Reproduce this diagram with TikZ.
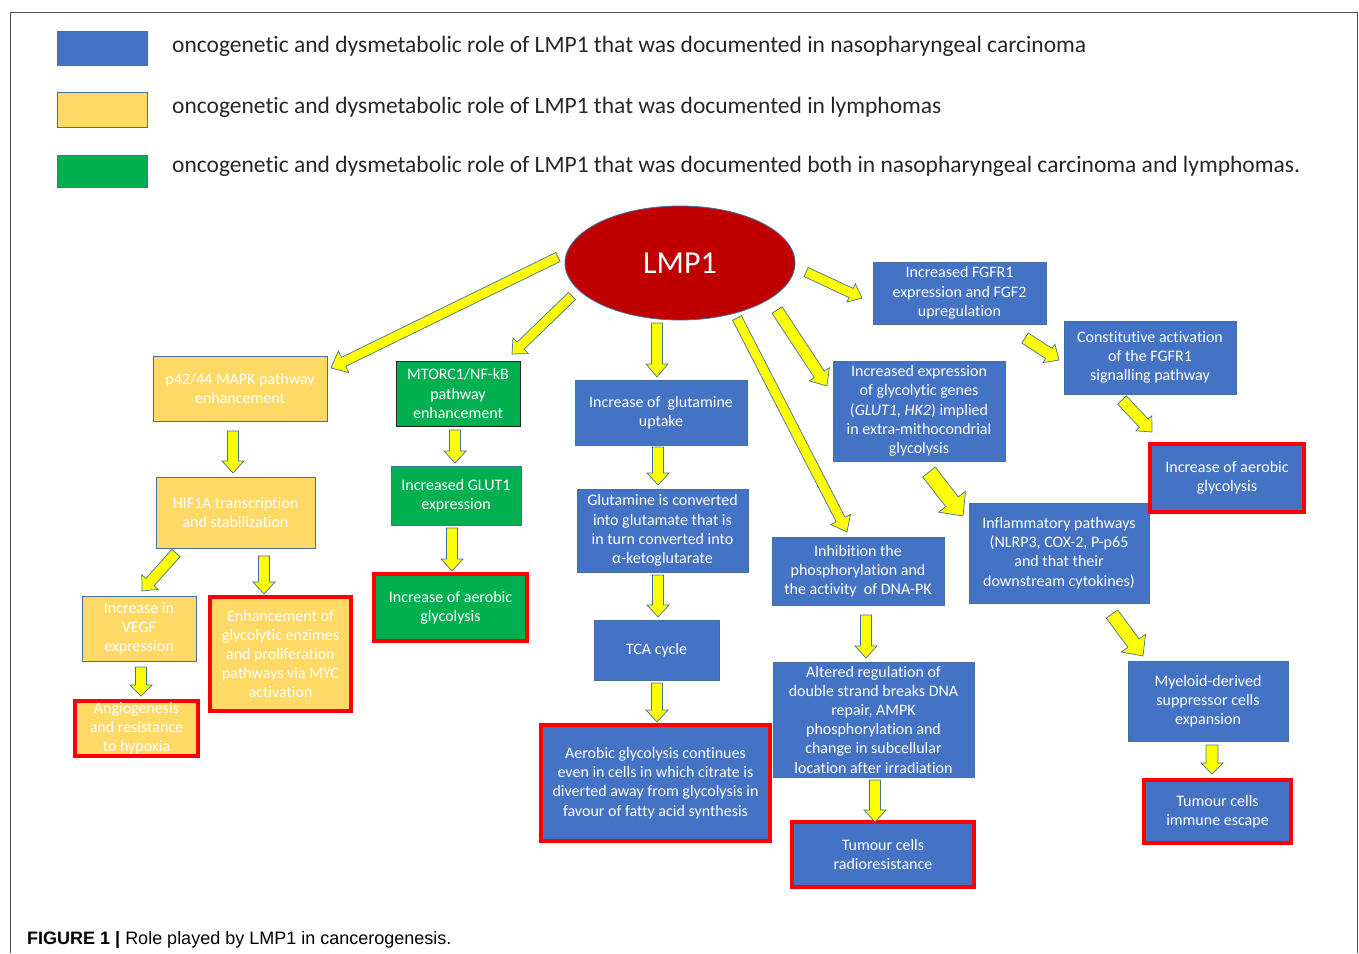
\documentclass[tikz,border=0pt]{standalone}
\usepackage{fontspec}
\setmainfont{Carlito}[Ligatures=NoCommon]
\newfontfamily\capfont{Liberation Sans}
\usetikzlibrary{calc,shapes.geometric}
\definecolor{bfill}{HTML}{4472C4}
\definecolor{yfill}{HTML}{FFD966}
\definecolor{gfill}{HTML}{00B050}
\definecolor{edge}{HTML}{41719C}
\definecolor{lmpred}{HTML}{C00000}
\definecolor{arrowy}{HTML}{FFFF00}
\definecolor{txtdark}{HTML}{262626}
\tikzset{
  box/.style={draw=edge, line width=0.8pt, text=white, align=center, inner sep=0pt,
    font=\fontsize{16}{19.2}\selectfont},
  bluebox/.style={box, fill=bfill},
  yellowbox/.style={box, fill=yfill},
  greenbox/.style={box, fill=gfill},
  redframe/.style={draw=red, line width=3.5pt},
  blockarrow/.style={fill=arrowy, draw=edge, line width=0.7pt, line join=miter},
  legendtext/.style={anchor=west, text=txtdark, inner sep=0pt, font=\fontsize{23.5}{27}\selectfont},
}
% box: name, style, x1, y1, x2, y2, text
\newcommand{\bx}[7]{%
  \node[#2, minimum width={(#5-#3)*1pt}, minimum height={(#6-#4)*1pt}] (#1) at ({(#3+#5)/2},{(#4+#6)/2}) {#7};}
% block arrow: from, to, half shaft, half head, head length
\newcommand{\barrow}[5]{%
  \coordinate (ba-h) at ($(#2)!#5!(#1)$);
  \draw[blockarrow] ($(#1)!#3!90:(#2)$) -- ($(ba-h)!#3!-90:(#1)$) -- ($(ba-h)!#4!-90:(#1)$) -- (#2)
    -- ($(ba-h)!#4!90:(#1)$) -- ($(ba-h)!#3!90:(#1)$) -- ($(#1)!#3!-90:(#2)$) -- cycle;}
\begin{document}
\begin{tikzpicture}[x=1pt,y=-1pt]
\useasboundingbox (0,0) rectangle (1359,953);
\draw[line width=0.8pt, black!70] (10,953) -- (10,12) -- (1357,12) -- (1357,953);

% legend
\bx{legB}{bluebox}{57}{31}{147}{65}{}
\bx{legY}{yellowbox}{57}{92}{147}{127}{}
\bx{legG}{greenbox}{57}{155}{147}{187}{}
\node[legendtext] (legBt) at (172,46) {oncogenetic and dysmetabolic role of LMP1 that was documented in nasopharyngeal carcinoma};
\node[legendtext] (legYt) at (172,107) {oncogenetic and dysmetabolic role of LMP1 that was documented in lymphomas};
\node[legendtext] (legGt) at (172,166) {oncogenetic and dysmetabolic role of LMP1 that was documented both in nasopharyngeal carcinoma and lymphomas.};

% LMP1
\node[ellipse, fill=lmpred, draw=edge, line width=0.8pt, minimum width=230pt, minimum height=114pt, inner sep=0pt,
  text=white, font=\fontsize{32}{36}\selectfont] (lmp) at (680,263) {LMP1};

% left yellow column
\bx{p42}{yellowbox}{153}{356}{327}{421}{p42/44 MAPK pathway\\enhancement}
\bx{hif}{yellowbox}{156}{477}{315}{548}{HIF1A transcription\\and stabilization}
\bx{vegf}{yellowbox}{82}{596}{196}{661}{Increase in\\VEGF\\expression}
\bx{enh}{yellowbox,redframe}{210}{597}{351}{711}{Enhancement of\\glycolytic enzimes\\and proliferation\\pathways via MYC\\activation}
\bx{ang}{yellowbox,redframe}{75}{701}{198}{756}{Angiogenesis\\and resistance\\to hypoxia}

% green column
\bx{mtor}{greenbox, draw=black!85}{396}{361}{520}{426}{MTORC1/NF-kB\\pathway\\enhancement}
\bx{glut}{greenbox}{391}{466}{521}{525}{Increased GLUT1\\expression}
\bx{aerG}{greenbox,redframe}{374}{574}{527}{641}{Increase of aerobic\\glycolysis}

% centre column
\bx{gln}{bluebox}{575}{380}{747}{445}{Increase of \ glutamine\\uptake}
\bx{conv}{bluebox}{577}{489}{748}{572}{Glutamine is converted\\into glutamate that is\\in turn converted into\\α-ketoglutarate}
\bx{tca}{bluebox}{594}{620}{719}{680}{TCA cycle}
\bx{aerC}{bluebox,redframe}{541}{725}{770}{841}{Aerobic glycolysis continues\\even in cells in which citrate is\\diverted away from glycolysis in\\favour of fatty acid synthesis}

% DNA-PK column
\bx{inh}{bluebox}{772}{537}{944}{605}{Inhibition the\\phosphorylation and\\the activity \ of DNA-PK}
\bx{alt}{bluebox}{773}{662}{974}{777}{Altered regulation of\\double strand breaks DNA\\repair, AMPK\\phosphorylation and\\change in subcellular\\location after irradiation}
\bx{rad}{bluebox,redframe}{792}{822}{974}{887}{Tumour cells\\radioresistance}

% right part
\bx{gly}{bluebox}{833}{361}{1005}{461}{Increased expression\\of glycolytic genes\\(\textit{GLUT1, HK2}) implied\\in extra-mithocondrial\\glycolysis}
\bx{inf}{bluebox}{969}{503}{1149}{603}{Inflammatory pathways\\(NLRP3, COX-2, P-p65\\and that their\\downstream cytokines)}
\bx{mye}{bluebox}{1128}{661}{1288}{741}{Myeloid-derived\\suppressor cells\\expansion}
\bx{imm}{bluebox,redframe}{1144}{780}{1291}{843}{Tumour cells\\immune escape}
\bx{fgf}{bluebox}{873}{262}{1046}{324}{Increased FGFR1\\expression and FGF2\\upregulation}
\bx{con}{bluebox}{1064}{321}{1236}{394}{Constitutive activation\\of the FGFR1\\signalling pathway}
\bx{aerR}{bluebox,redframe}{1150}{444}{1304}{512}{Increase of aerobic\\glycolysis}

% arrow end points
\coordinate (a1s) at (558,257);  \coordinate (a1e) at (331,368);
\coordinate (a2s) at (572,296);  \coordinate (a2e) at (512,354);
\coordinate (a3s) at (657,323);  \coordinate (a3e) at (657,377);
\coordinate (a4s) at (737,318);  \coordinate (a4e) at (847,532);
\coordinate (a5s) at (777,310);  \coordinate (a5e) at (827,386);
\coordinate (a6s) at (806,272);  \coordinate (a6e) at (862,298);
\coordinate (a7s) at (1025,338); \coordinate (a7e) at (1059,360);
\coordinate (a8s) at (1122,400); \coordinate (a8e) at (1152,432);
\coordinate (a9s) at (929,472);  \coordinate (a9e) at (963,516);
\coordinate (a10s) at (1112,614); \coordinate (a10e) at (1143,656);
\coordinate (a11s) at (1212,745); \coordinate (a11e) at (1212,774);
\coordinate (a12s) at (866,615); \coordinate (a12e) at (866,658);
\coordinate (a13s) at (875,780); \coordinate (a13e) at (875,822);
\coordinate (a14s) at (658,447); \coordinate (a14e) at (658,485);
\coordinate (a15s) at (658,575); \coordinate (a15e) at (658,617);
\coordinate (a16s) at (657,683); \coordinate (a16e) at (657,722);
\coordinate (a17s) at (233,431); \coordinate (a17e) at (233,473);
\coordinate (a18s) at (176,553); \coordinate (a18e) at (142,591);
\coordinate (a19s) at (264,556); \coordinate (a19e) at (264,594);
\coordinate (a20s) at (141,667); \coordinate (a20e) at (141,696);
\coordinate (a21s) at (455,430); \coordinate (a21e) at (455,463);
\coordinate (a22s) at (452,528); \coordinate (a22e) at (452,571);

\barrow{a1s}{a1e}{5pt}{12pt}{14pt}
\barrow{a2s}{a2e}{5pt}{11pt}{12pt}
\barrow{a3s}{a3e}{5.5pt}{11pt}{13pt}
\barrow{a4s}{a4e}{5pt}{11pt}{14pt}
\barrow{a5s}{a5e}{6pt}{12pt}{14pt}
\barrow{a6s}{a6e}{5pt}{10pt}{12pt}
\barrow{a7s}{a7e}{6pt}{11pt}{12pt}
\barrow{a8s}{a8e}{6pt}{11pt}{12pt}
\barrow{a9s}{a9e}{8pt}{17pt}{18pt}
\barrow{a10s}{a10e}{7pt}{15pt}{16pt}
\barrow{a11s}{a11e}{6pt}{11pt}{11pt}
\barrow{a12s}{a12e}{5.5pt}{11pt}{12pt}
\barrow{a13s}{a13e}{5.5pt}{11pt}{12pt}
\barrow{a14s}{a14e}{5.5pt}{11pt}{12pt}
\barrow{a15s}{a15e}{5.5pt}{11pt}{12pt}
\barrow{a16s}{a16e}{5.5pt}{11pt}{12pt}
\barrow{a17s}{a17e}{5.5pt}{11pt}{12pt}
\barrow{a18s}{a18e}{5.5pt}{11pt}{12pt}
\barrow{a19s}{a19e}{5.5pt}{11pt}{12pt}
\barrow{a20s}{a20e}{5.5pt}{11pt}{11pt}
\barrow{a21s}{a21e}{5.5pt}{11pt}{12pt}
\barrow{a22s}{a22e}{5.5pt}{11pt}{12pt}

% caption
\node[anchor=west, inner sep=0pt, font=\capfont\fontsize{18}{21}\selectfont, text=black] (cap) at (27,940)
  {\textbf{FIGURE 1 |} Role played by LMP1 in cancerogenesis.};
\end{tikzpicture}
\end{document}
